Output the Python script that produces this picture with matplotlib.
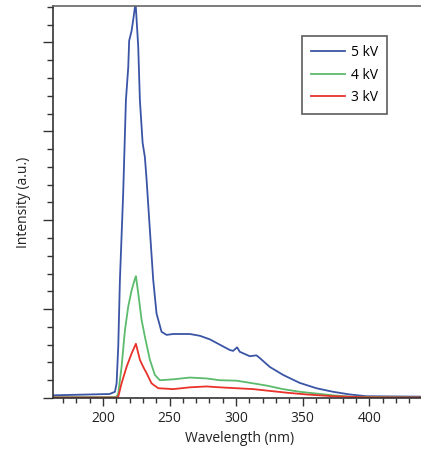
import matplotlib
matplotlib.use("Agg")
import matplotlib.pyplot as plt
from matplotlib.ticker import MultipleLocator

# Data
wl_5kv = [162, 205, 209, 210.25, 211.5, 212.75, 215.2, 217.25, 219.0, 219.7, 221.5, 222.7, 224.5,
          225.3, 226.5, 227.75, 229.8, 231.5, 232.8, 235.25, 237.75, 240.25, 244, 247.75, 252.75,
          265.25, 272.75, 280.25, 287.75, 295.25, 297.75, 300.75, 302.75, 310.25, 315.25, 317.75,
          325.25, 335.25, 347.75, 360.25, 372.75, 385.25, 397.75, 440]
int_5kv = [0.03, 0.045, 0.07, 0.165, 0.58, 1.33, 2.3, 3.35, 3.72, 4.02, 4.13, 4.25, 4.45,
           4.25, 3.95, 3.35, 2.87, 2.71, 2.45, 1.89, 1.33, 0.95, 0.745, 0.71, 0.72,
           0.72, 0.70, 0.66, 0.60, 0.54, 0.53, 0.57, 0.52, 0.47, 0.48, 0.45,
           0.35, 0.26, 0.17, 0.11, 0.07, 0.04, 0.02, 0.015]

wl_4kv = [162, 210, 211.5, 214, 216.5, 219, 221.5, 224, 224.75, 226.5, 229, 231.5, 235.25, 239,
          242.75, 252.75, 265.25, 277.75, 287.75, 300.25, 312.75, 322.75, 335.25,
          347.75, 360.25, 372.75, 385.25, 440]
int_4kv = [0.01, 0.01, 0.05, 0.35, 0.76, 1.03, 1.21, 1.34, 1.37, 1.18, 0.88, 0.69, 0.43, 0.26,
           0.20, 0.21, 0.23, 0.22, 0.20, 0.195, 0.165, 0.14, 0.10,
           0.07, 0.05, 0.03, 0.015, 0.005]

wl_3kv = [162, 210.5, 211.5, 214, 217.75, 221.5, 224.75, 227.75, 230.25, 232.75, 236.5, 241.5,
          252.75, 265.25, 277.75, 287.75, 300.25, 312.75, 325.25, 337.75, 352.75, 372.75,
          397.75, 440]
int_3kv = [0.005, 0.005, 0.015, 0.165, 0.35, 0.50, 0.61, 0.43, 0.35, 0.28, 0.165, 0.11,
           0.10, 0.12, 0.13, 0.12, 0.11, 0.10, 0.08, 0.06, 0.04, 0.02,
           0.008, 0.005]

labels = ["5 kV", "4 kV", "3 kV"]
colors = ["#3b55a6", "#5cbb6c", "#e8322a"]
x_ticks = [200, 250, 300, 350, 400]

plt.rcParams['font.family'] = ['Open Sans', 'DejaVu Sans']

fig = plt.figure(figsize=(4.21, 4.51), dpi=100)
ax = fig.add_axes([53/421, 1 - 398/451, 1 - 53/421 + 0.01, (398 - 6)/451])

for wl, inten, lab, c in zip([wl_5kv, wl_4kv, wl_3kv], [int_5kv, int_4kv, int_3kv], labels, colors):
    ax.plot(wl, inten, color=c, lw=1.3, label=lab)

ax.set_xlim(162.5, 442)
ax.set_ylim(0, 4.41)
ax.set_xticks(x_ticks)
ax.xaxis.set_minor_locator(MultipleLocator(10))
ax.yaxis.set_major_locator(MultipleLocator(1))
ax.yaxis.set_minor_locator(MultipleLocator(0.2))
ax.set_yticklabels([])
ax.tick_params(axis='y', which='major', length=7.2, width=1, color='#333333', direction='out')
ax.tick_params(axis='y', which='minor', length=4.3, width=1, color='#333333', direction='out')
ax.tick_params(axis='x', which='major', length=5.6, width=1, color='#333333', direction='out',
               labelsize=10, labelcolor='#222222', pad=3.5)
ax.tick_params(axis='x', which='minor', length=3.6, width=1, color='#333333', direction='out')

ax.spines['right'].set_visible(False)
for s in ['left', 'bottom']:
    ax.spines[s].set_color('#333333')
    ax.spines[s].set_linewidth(1.2)
ax.spines['top'].set_color('#666666')
ax.spines['top'].set_linewidth(1.2)

ax.set_xlabel("Wavelength (nm)", fontsize=10, color='#222222', labelpad=4)
ax.set_ylabel("Intensity (a.u.)", fontsize=10, color='#222222', labelpad=5)

leg = ax.legend(loc='upper right', fontsize=10, frameon=True, fancybox=False,
                edgecolor='#333333', handlelength=2.4, borderpad=0.65, labelspacing=0.55,
                handletextpad=0.45, borderaxespad=0)
leg.get_frame().set_linewidth(1.2)
leg.set_bbox_to_anchor((387/421, 1 - 36/451), transform=fig.transFigure)

fig.savefig("out.png", dpi=100)
